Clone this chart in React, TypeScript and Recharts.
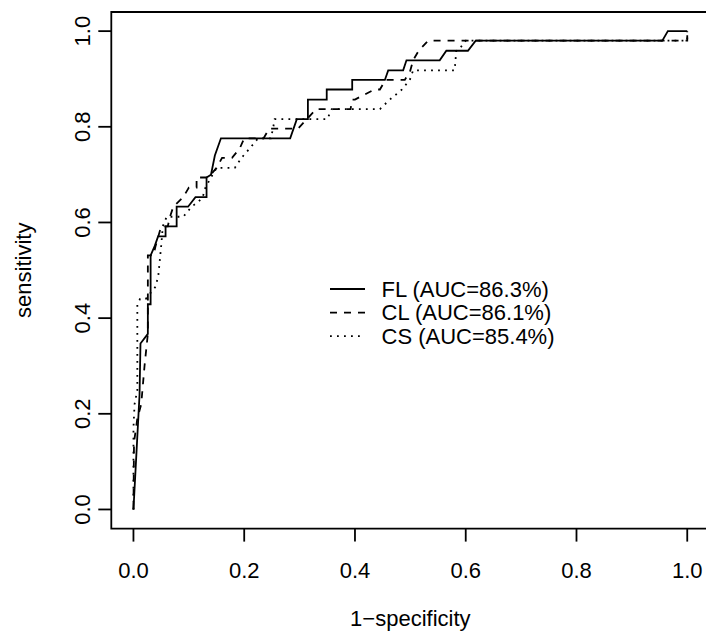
import React from "react"
import { LineChart, Line, XAxis, YAxis, ReferenceArea, Legend, Label } from "recharts"

// ROC curves (x = 1-specificity, y = sensitivity)
const fprFL = [0, 0.011, 0.0127, 0.026, 0.026, 0.031, 0.031, 0.0385, 0.0445, 0.058, 0.058, 0.078, 0.078, 0.0986, 0.112, 0.132, 0.132, 0.14, 0.147, 0.158, 0.283, 0.295, 0.315, 0.315, 0.349, 0.349, 0.395, 0.395, 0.454, 0.46, 0.487, 0.493, 0.553, 0.565, 0.604, 0.618, 0.955, 0.965, 1.0]
const tprFL = [0, 0.24, 0.347, 0.367, 0.429, 0.429, 0.531, 0.551, 0.571, 0.571, 0.592, 0.592, 0.633, 0.633, 0.653, 0.653, 0.694, 0.7, 0.74, 0.776, 0.776, 0.816, 0.816, 0.857, 0.857, 0.878, 0.878, 0.898, 0.898, 0.918, 0.918, 0.939, 0.939, 0.959, 0.959, 0.98, 0.98, 1.0, 1.0]

const fprCL = [0, 0.001, 0.007, 0.014, 0.02, 0.026, 0.026, 0.036, 0.04, 0.045, 0.05, 0.062, 0.066, 0.072, 0.09, 0.1, 0.114, 0.114, 0.135, 0.15, 0.16, 0.178, 0.192, 0.2, 0.235, 0.245, 0.297, 0.33, 0.392, 0.395, 0.4, 0.435, 0.445, 0.455, 0.49, 0.5, 0.505, 0.515, 0.532, 1.0, 1.0]
const tprCL = [0, 0.14, 0.19, 0.22, 0.3, 0.367, 0.531, 0.531, 0.551, 0.571, 0.592, 0.592, 0.612, 0.633, 0.653, 0.673, 0.673, 0.694, 0.694, 0.714, 0.735, 0.735, 0.755, 0.776, 0.776, 0.796, 0.796, 0.837, 0.837, 0.857, 0.857, 0.878, 0.878, 0.898, 0.898, 0.918, 0.939, 0.959, 0.98, 0.98, 1.0]

const fprCS = [0, 0, 0.002, 0.007, 0.007, 0.012, 0.022, 0.04, 0.045, 0.05, 0.053, 0.06, 0.09, 0.105, 0.117, 0.125, 0.13, 0.14, 0.15, 0.183, 0.195, 0.21, 0.225, 0.248, 0.252, 0.255, 0.35, 0.358, 0.445, 0.463, 0.484, 0.499, 0.505, 0.58, 0.583, 0.59, 0.6, 1.0, 1.0]
const tprCS = [0, 0.17, 0.22, 0.25, 0.43, 0.44, 0.44, 0.466, 0.49, 0.55, 0.592, 0.612, 0.612, 0.633, 0.643, 0.653, 0.673, 0.694, 0.714, 0.714, 0.735, 0.755, 0.776, 0.776, 0.796, 0.816, 0.816, 0.837, 0.837, 0.857, 0.877, 0.898, 0.918, 0.918, 0.959, 0.965, 0.98, 0.98, 1.0]

const seriesLabels = ["FL (AUC=86.3%)", "CL (AUC=86.1%)", "CS (AUC=85.4%)"]
const tickValues = [0, 0.2, 0.4, 0.6, 0.8, 1.0]

const FONT = "'Liberation Sans', Arial, Helvetica, sans-serif"
const LW = 1.8
const DASHES = [undefined, "7 7", "1.8 5.2"]

const zip = (xs: number[], ys: number[]) => xs.map((x, i) => ({ x, y: ys[i] }))
const curves = [zip(fprFL, tprFL), zip(fprCL, tprCL), zip(fprCS, tprCS)]

function XTick(props: any) {
  const { x, y, payload } = props
  return (
    <text x={x} y={y} dy={36.7} textAnchor="middle" fontSize={22} fontFamily={FONT} fill="#000">
      {payload.value.toFixed(1)}
    </text>
  )
}

function YTick(props: any) {
  const { x, y, payload } = props
  return (
    <text
      transform={`translate(${x - 8.3},${y}) rotate(-90)`}
      textAnchor="middle"
      fontSize={22}
      fontFamily={FONT}
      fill="#000"
    >
      {payload.value.toFixed(1)}
    </text>
  )
}

function LegendBox() {
  return (
    <svg width={300} height={90} style={{ display: "block" }}>
      {seriesLabels.map((lab, i) => (
        <g key={lab}>
          <line x1={10} x2={45} y1={19 + i * 23.6} y2={19 + i * 23.6} stroke="#000" strokeWidth={LW} strokeDasharray={DASHES[i]} />
          <text x={61.5} y={26.7 + i * 23.6} fontSize={22} fontFamily={FONT} fill="#000">
            {lab}
          </text>
        </g>
      ))}
    </svg>
  )
}

export default function App() {
  return (
    <div style={{ position: "absolute", left: 0, top: 0, width: 706, height: 639, overflow: "hidden", background: "#fff" }}>
      <LineChart width={720} height={639} margin={{ top: 12, right: 10.6, bottom: 10.4, left: 11.3 }}>
        <XAxis
          type="number"
          dataKey="x"
          domain={[-0.04, 1.04]}
          ticks={tickValues}
          allowDataOverflow
          height={100}
          axisLine={false}
          tickSize={13}
          tickMargin={0}
          tickLine={{ stroke: "#000", strokeWidth: LW }}
          tick={<XTick />}
        >
          <Label
            content={({ viewBox }: any) => (
              <text x={viewBox.x + viewBox.width / 2} y={viewBox.y + 97.4} textAnchor="middle" fontSize={22} fontFamily={FONT} fill="#000">
                1−specificity
              </text>
            )}
          />
        </XAxis>
        <YAxis
          type="number"
          dataKey="y"
          domain={[-0.04, 1.04]}
          ticks={tickValues}
          allowDataOverflow
          width={100}
          axisLine={false}
          tickSize={13}
          tickMargin={0}
          tickLine={{ stroke: "#000", strokeWidth: LW }}
          tick={<YTick />}
        >
          <Label
            content={({ viewBox }: any) => (
              <text
                transform={`translate(${viewBox.x + 19.7},${viewBox.y + viewBox.height / 2}) rotate(-90)`}
                textAnchor="middle"
                fontSize={22}
                fontFamily={FONT}
                fill="#000"
              >
                sensitivity
              </text>
            )}
          />
        </YAxis>
        <ReferenceArea x1={-0.04} x2={1.04} y1={-0.04} y2={1.04} fill="none" stroke="#000" strokeWidth={LW} ifOverflow="visible" />
        {curves.map((pts, i) => (
          <Line
            key={seriesLabels[i]}
            data={pts}
            dataKey="y"
            name={seriesLabels[i]}
            type="linear"
            stroke="#000"
            strokeWidth={LW}
            strokeDasharray={DASHES[i]}
            dot={false}
            activeDot={false}
            isAnimationActive={false}
          />
        ))}
        <Legend
          layout="horizontal"
          verticalAlign="middle"
          align="center"
          wrapperStyle={{ left: 320, top: 270, width: 300, height: 90 }}
          content={() => <LegendBox />}
        />
      </LineChart>
    </div>
  )
}
